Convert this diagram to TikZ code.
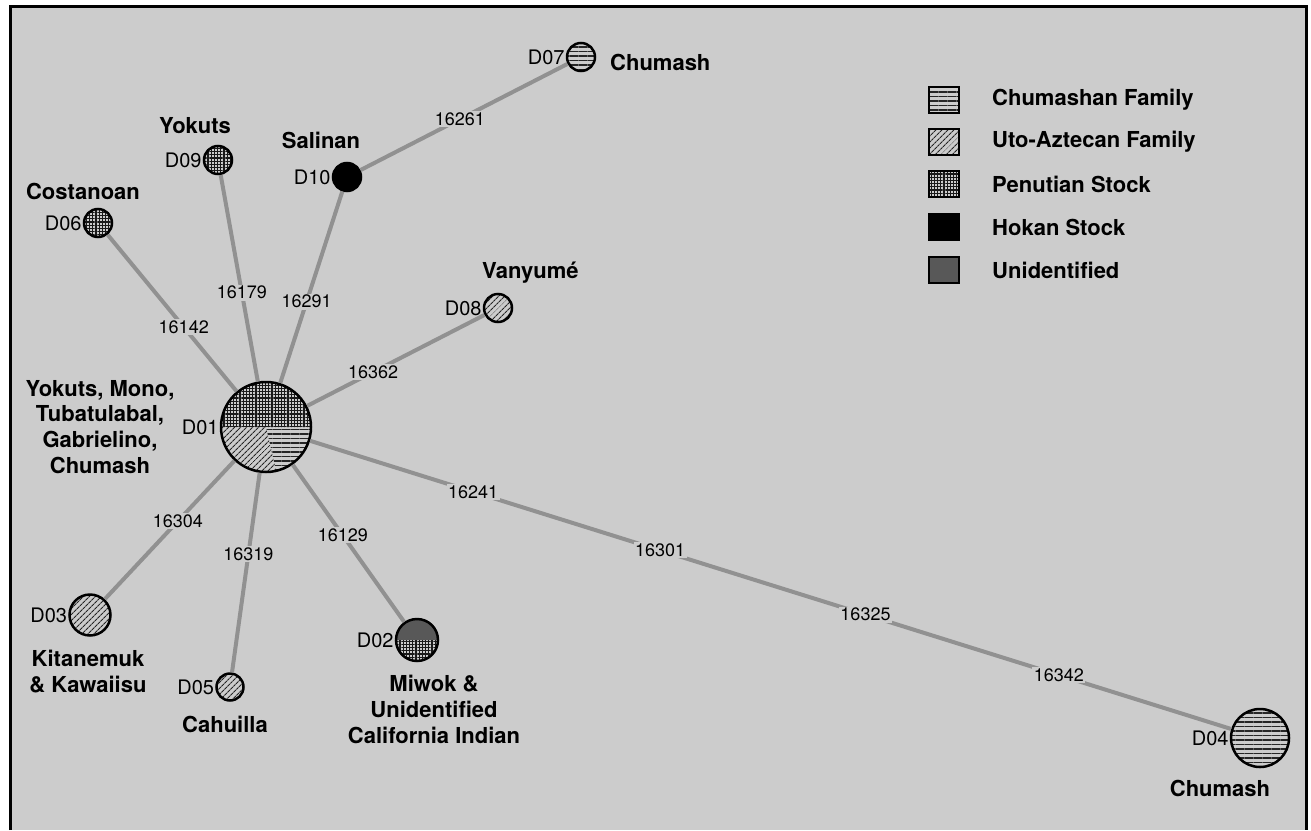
\documentclass[tikz,border=0pt]{standalone}
\usepackage{fontspec}
\setmainfont{TeX Gyre Heros}
\usetikzlibrary{patterns.meta}
\usetikzlibrary{positioning}
\definecolor{paper}{RGB}{204,204,204}
\definecolor{linkgray}{RGB}{145,145,145}
\definecolor{unknown}{RGB}{88,88,88}

\newcommand{\namefont}{\fontsize{22}{25.7}\selectfont\bfseries}
\newcommand{\idfont}{\fontsize{20}{23}\selectfont}
\newcommand{\numfont}{\fontsize{18}{21}\selectfont}

\begin{document}
\begin{tikzpicture}[x=1pt, y=-1pt,
  site/.style={circle, draw=black, line width=2.5pt, inner sep=0pt, minimum size=#1},
  chum/.style={pattern={Lines[distance=4.5pt, line width=1.4pt]}, pattern color=black!85},
  uto/.style={pattern={Lines[angle=45, distance=4pt, line width=1.1pt]}, pattern color=black!85},
  pen/.style={pattern={Hatch[distance=3.2pt, line width=1.2pt]}, pattern color=black!90},
  hokan/.style={fill=black},
  unid/.style={fill=unknown},
  link/.style={draw=linkgray, line width=4pt},
  num/.style={font=\numfont, fill=paper, inner sep=1.5pt},
  sitetag/.style={font=\idfont, inner sep=0pt},
  tribe/.style={font=\namefont, align=center, inner sep=0pt},
  swatch/.style={draw=black, line width=2pt, minimum width=30pt, minimum height=26pt, inner sep=0pt}]

  % page and frame
  \useasboundingbox (0,0) rectangle (1311,830);
  \fill[white] (0,0) rectangle (1311,830);
  \fill[paper] (10,6) rectangle (1306,830);
  \draw[line width=3pt] (10,830) -- (10,6) -- (1306,6) -- (1306,830);

  % divided sites
  \coordinate (c01) at (266,427);
  \coordinate (c02) at (417,640);
  \fill[pen] (c01) -- ++(0:45) arc[start angle=0, end angle=-180, radius=45] -- cycle;
  \fill[uto] (c01) -- ++(-180:45) arc[start angle=-180, end angle=-283, radius=45] -- cycle;
  \fill[chum] (c01) -- ++(-283:45) arc[start angle=-283, end angle=-360, radius=45] -- cycle;
  \fill[unid] (c02) -- ++(0:21) arc[start angle=0, end angle=-180, radius=21] -- cycle;
  \fill[pen] (c02) -- ++(-180:21) arc[start angle=-180, end angle=-360, radius=21] -- cycle;

  % sites
  \node[site=90pt] (d01) at (c01) {};
  \node[site=42pt] (d02) at (c02) {};
  \node[site=41pt, uto] (d03) at (90,615) {};
  \node[site=58pt, chum] (d04) at (1260,738) {};
  \node[site=27pt, uto] (d05) at (230,687) {};
  \node[site=28pt, pen] (d06) at (98,223) {};
  \node[site=28pt, chum] (d07) at (581,57) {};
  \node[site=28pt, uto] (d08) at (498,308) {};
  \node[site=28pt, pen] (d09) at (218,160) {};
  \node[site=28pt, hokan] (d10) at (347,177) {};

  % links
  \draw[link] (d01) -- node[num, pos=0.41] (n16142) {16142} (d06);
  \draw[link] (d01) -- node[num, pos=0.43] (n16179) {16179} (d09);
  \draw[link] (d01) -- node[num, pos=0.425] (n16291) {16291} (d10);
  \draw[link] (d10) -- node[num, pos=0.48] (n16261) {16261} (d07);
  \draw[link] (d01) -- node[num, pos=0.372] (n16362) {16362} (d08);
  \draw[link] (d01) -- node[num, pos=0.436] (n16304) {16304} (d03);
  \draw[link] (d01) -- node[num, pos=0.408] (n16319) {16319} (d05);
  \draw[link] (d01) -- node[num, pos=0.45] (n16129) {16129} (d02);
  \draw[link] (d01) -- node[num, pos=0.177] (n16241) {16241}
                       node[num, pos=0.380] (n16301) {16301}
                       node[num, pos=0.603] (n16325) {16325}
                       node[num, pos=0.813] (n16342) {16342} (d04);

  % site ids
  \node[sitetag, left=1pt of d01] (t01) {D01};
  \node[sitetag, left=1pt of d02] (t02) {D02};
  \node[sitetag, left=1pt of d03] (t03) {D03};
  \node[sitetag, left=1pt of d04] (t04) {D04};
  \node[sitetag, left=1pt of d05] (t05) {D05};
  \node[sitetag, left=1pt of d06] (t06) {D06};
  \node[sitetag, left=1pt of d07] (t07) {D07};
  \node[sitetag, left=1pt of d08] (t08) {D08};
  \node[sitetag, left=1pt of d09] (t09) {D09};
  \node[sitetag, left=1pt of d10] (t10) {D10};

  % site names
  \node[tribe, anchor=base] (costanoan) at (83,199) {Costanoan};
  \node[tribe, anchor=base] (yokuts) at (195,133) {Yokuts};
  \node[tribe, anchor=base] (salinan) at (321,148) {Salinan};
  \node[tribe, anchor=base west] (chumtop) at (610,70) {Chumash};
  \node[tribe, anchor=base west] (vanyume) at (482,278) {Vanyumé};
  \node[tribe, anchor=north] (mixed) at (100,380) {Yokuts, Mono,\\Tubatulabal,\\Gabrielino,\\Chumash};
  \node[tribe, anchor=north] (kitanemuk) at (88,650) {Kitanemuk\\\& Kawaiisu};
  \node[tribe, anchor=north] (cahuilla) at (225,716) {Cahuilla};
  \node[tribe, anchor=north] (miwok) at (434,675) {Miwok \&\\Unidentified\\California Indian};
  \node[tribe, anchor=north] (chumbot) at (1220,780) {Chumash};

  % legend
  \foreach \yy/\sty/\txt [count=\i] in {100/chum/Chumashan Family, 142/uto/Uto-Aztecan Family,
      184/pen/Penutian Stock, 227/hokan/Hokan Stock, 270/unid/Unidentified} {
    \node[swatch, \sty] (leg\i) at (944,\yy) {};
    \node[tribe, anchor=west] (legtxt\i) at (992,\yy) {\txt};
  }
\end{tikzpicture}
\end{document}
